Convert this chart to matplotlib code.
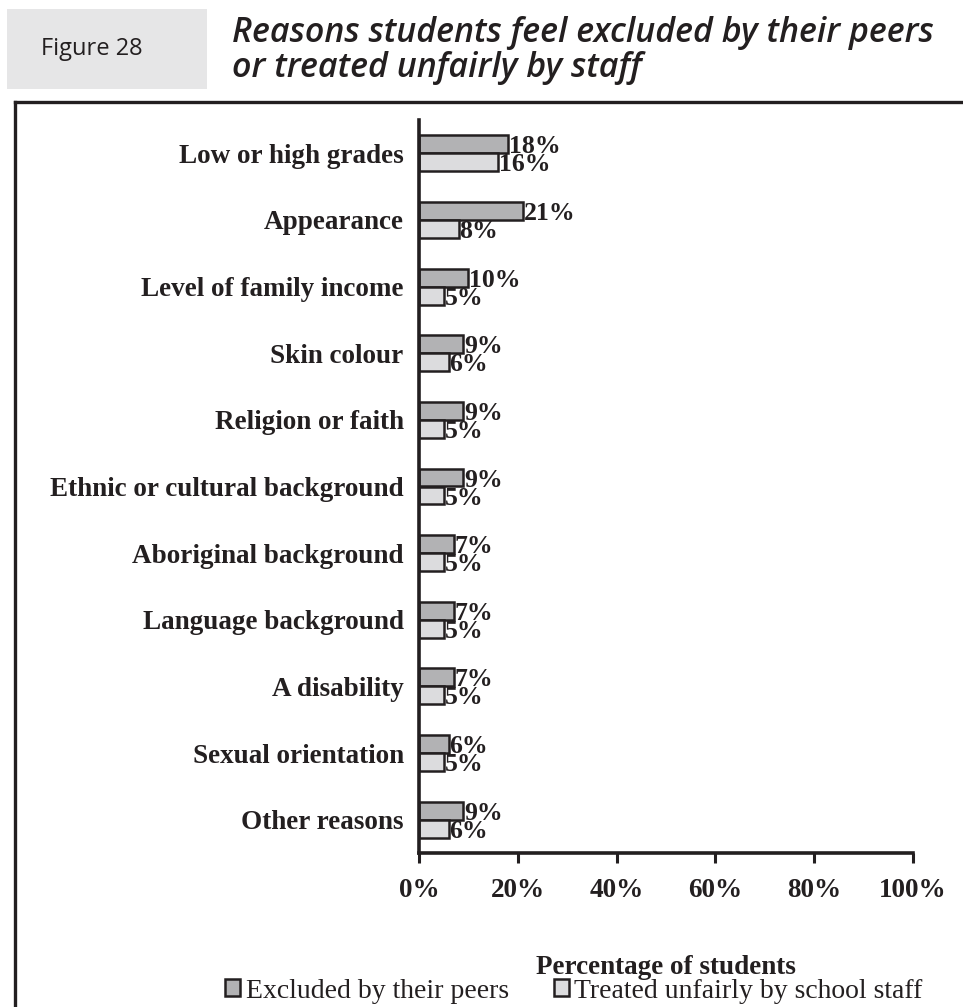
import matplotlib
matplotlib.use("Agg")
import matplotlib.pyplot as plt
import numpy as np
from matplotlib.patches import Rectangle
from matplotlib.lines import Line2D

categories = [
    "Low or high grades",
    "Appearance",
    "Level of family income",
    "Skin colour",
    "Religion or faith",
    "Ethnic or cultural background",
    "Aboriginal background",
    "Language background",
    "A disability",
    "Sexual orientation",
    "Other reasons",
]
excluded_by_peers = [18, 21, 10, 9, 9, 9, 7, 7, 7, 6, 9]
treated_unfairly_by_staff = [16, 8, 5, 6, 5, 5, 5, 5, 5, 5, 6]
series_names = ["Excluded by their peers", "Treated unfairly by school staff"]
xticks = [0, 20, 40, 60, 80, 100]

INK = "#231f20"
DARK = "#b2b2b4"
LIGHT = "#dcdcde"
SERIF = ["Liberation Serif", "DejaVu Serif"]
FS = 19.5

W, H = 963, 1007
fig = plt.figure(figsize=(W / 100, H / 100), dpi=100)

# Header: grey label box and title
fig.patches.append(Rectangle((7 / W, 1 - 89 / H), 200 / W, 80 / H,
                             transform=fig.transFigure, facecolor="#e6e6e7",
                             edgecolor="none"))
fig.text(92 / W, 1 - 49 / H, "Figure 28", fontsize=17, family="Open Sans",
         color=INK, ha="center", va="center")
fig.text(232 / W, 1 - 33 / H, "Reasons students feel excluded by their peers",
         fontsize=24.5, family="Open Sans", style="italic", weight="semibold",
         color=INK, ha="left", va="center")
fig.text(232 / W, 1 - 68 / H, "or treated unfairly by staff",
         fontsize=24.5, family="Open Sans", style="italic", weight="semibold",
         color=INK, ha="left", va="center")

# Frame around the chart
fig.add_artist(Line2D([15 / W, 15 / W], [0, 1 - 102 / H], transform=fig.transFigure,
                      color=INK, lw=2.4, solid_capstyle="projecting"))
fig.add_artist(Line2D([15 / W, 1.0], [1 - 102 / H, 1 - 102 / H], transform=fig.transFigure,
                      color=INK, lw=2.4, solid_capstyle="projecting"))

ax = fig.add_axes([419 / W, 1 - 853 / H, (913 - 419) / W, (853 - 120) / H])
y = np.arange(len(categories))
h = 0.27
ax.barh(y - h / 2, excluded_by_peers, height=h, color=DARK, edgecolor=INK, linewidth=1.8)
ax.barh(y + h / 2, treated_unfairly_by_staff, height=h, color=LIGHT, edgecolor=INK, linewidth=1.8)

# Value labels: digits centred on each bar
for offset, values in ((-h / 2, excluded_by_peers), (h / 2, treated_unfairly_by_staff)):
    for yi, v in zip(y, values):
        ax.annotate(f"{v}%", xy=(v, yi + offset), xytext=(0.5, -6.5),
                    textcoords="offset points", family=SERIF, weight="bold",
                    fontsize=18.5, color=INK, ha="left", va="baseline")

ax.set_xlim(0, 100)
ax.set_ylim(len(categories) - 0.5, -0.5)
ax.set_yticks(y)
ax.set_yticklabels(categories, family=SERIF, weight="bold", fontsize=FS, color=INK)
ax.tick_params(axis="y", length=0, pad=11)
ax.set_xticks(xticks)
ax.set_xticklabels([f"{t}%" for t in xticks], family=SERIF, weight="bold", fontsize=FS, color=INK)
ax.tick_params(axis="x", direction="out", length=7, width=2.2, color=INK, pad=11)
for s in ("top", "right"):
    ax.spines[s].set_visible(False)
for s in ("left", "bottom"):
    ax.spines[s].set_linewidth(2.6)
    ax.spines[s].set_color(INK)

fig.text(666 / W, 1 - 968 / H, "Percentage of students", family=SERIF, weight="bold",
         fontsize=FS, color=INK, ha="center", va="center")

handles = [Rectangle((0, 0), 1, 1, facecolor=DARK, edgecolor=INK, linewidth=1.8),
           Rectangle((0, 0), 1, 1, facecolor=LIGHT, edgecolor=INK, linewidth=1.8)]
fig.legend(handles, series_names, loc="center", bbox_to_anchor=(574 / W, 1 - 991 / H),
           ncol=2, frameon=False, prop={"family": SERIF, "size": 20},
           handlelength=0.55, handleheight=0.55, handletextpad=0.2, columnspacing=1.6,
           labelcolor=INK, borderpad=0)

fig.savefig("out.png", dpi=100)
